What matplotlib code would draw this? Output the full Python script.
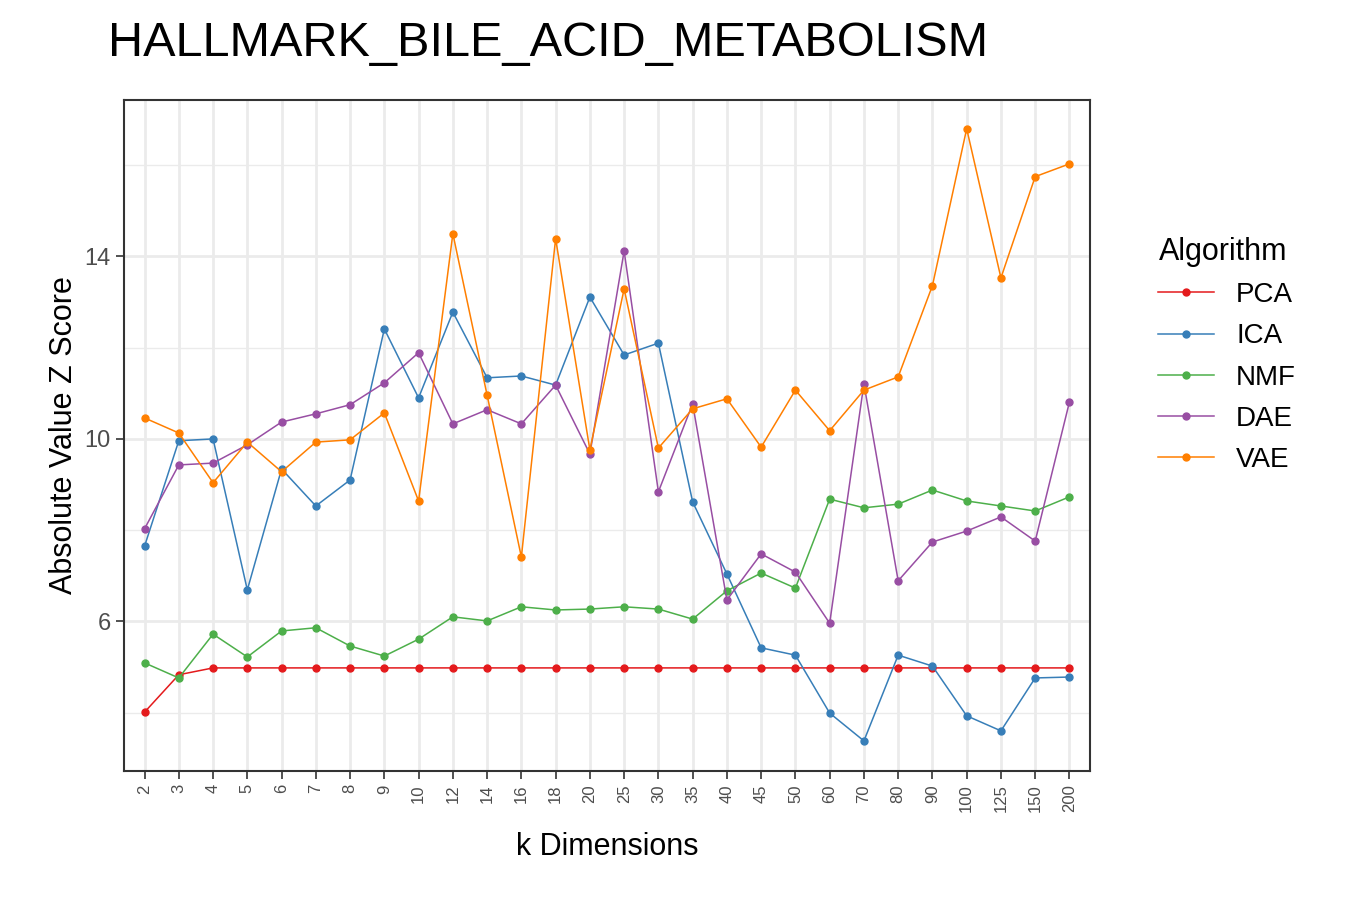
import matplotlib
matplotlib.use("Agg")
import matplotlib.pyplot as plt
import numpy as np

plt.rcParams['font.family'] = ['Liberation Sans', 'DejaVu Sans']

ks = ["2","3","4","5","6","7","8","9","10","12","14","16","18","20","25","30","35","40","45","50","60","70","80","90","100","125","150","200"]
pca = [4.01,4.83,4.98,4.98,4.98,4.98,4.98,4.98,4.98,4.98,4.98,4.98,4.98,4.98,4.98,4.98,4.98,4.98,4.98,4.98,4.98,4.98,4.98,4.98,4.98,4.98,4.98,4.98]
ica = [7.65,9.96,10.0,6.69,9.34,8.53,9.10,12.41,10.9,12.78,11.34,11.38,11.18,13.11,11.84,12.1,8.62,7.04,5.42,5.26,3.99,3.38,5.26,5.02,3.93,3.6,4.76,4.78]
nmf = [5.09,4.76,5.72,5.22,5.79,5.86,5.46,5.24,5.61,6.1,6.01,6.32,6.25,6.27,6.32,6.27,6.05,6.67,7.06,6.73,8.68,8.49,8.57,8.88,8.64,8.53,8.42,8.73]
dae = [8.03,9.43,9.47,9.87,10.37,10.55,10.75,11.23,11.89,10.33,10.64,10.33,11.18,9.67,14.12,8.84,10.77,6.47,7.48,7.08,5.96,11.21,6.89,7.74,7.98,8.29,7.76,10.81]
vae = [10.46,10.13,9.04,9.93,9.28,9.93,9.98,10.57,8.64,14.5,10.96,7.41,14.39,9.76,13.29,9.8,10.66,10.88,9.82,11.07,10.18,11.07,11.36,13.36,16.8,13.53,15.75,16.03]
series = [("PCA",pca,"#E41A1C"),("ICA",ica,"#377EB8"),("NMF",nmf,"#4DAF4A"),("DAE",dae,"#984EA3"),("VAE",vae,"#FF7F00")]

fig = plt.figure(figsize=(13.5,9), dpi=100)
ax = fig.add_axes([124/1350, 1-771/900, (1090-124)/1350, (771-100)/900])
x = np.arange(len(ks))
for name, vals, c in series:
    ax.plot(x, vals, color=c, lw=1.1, marker="o", ms=5, label=name)
ax.set_xlim(-0.6, len(ks)-0.4)
ax.set_ylim(2.72, 17.43)
ax.set_xticks(x)
ax.set_xticklabels(ks, rotation=90, fontsize=12, color="#4d4d4d")
ax.set_yticks([6,10,14])
ax.set_yticks([4,8,12,16], minor=True)
ax.tick_params(axis="y", labelsize=17, colors="#4d4d4d", which="major")
ax.tick_params(axis="y", which="minor", length=0)
ax.tick_params(axis="both", color="#333333", width=1.2, length=6)
ax.grid(True, which="major", color="#ebebeb", lw=2)
ax.grid(True, which="minor", axis="y", color="#ebebeb", lw=1)
ax.set_axisbelow(True)
for s in ax.spines.values():
    s.set_color("#333333"); s.set_linewidth(1.5)
ax.set_xlabel("k Dimensions", fontsize=22, labelpad=14)
ax.set_ylabel("Absolute Value Z Score", fontsize=22)
fig.text(0.08, 0.952, "HALLMARK_BILE_ACID_METABOLISM", fontsize=35, va="center")
leg = ax.legend(title="Algorithm", loc="center left", bbox_to_anchor=(1.045, 0.62), frameon=False, fontsize=20, title_fontsize=22, handlelength=2, labelspacing=0.55)
leg._legend_box.align = "left"
fig.savefig("out.png", dpi=100)
